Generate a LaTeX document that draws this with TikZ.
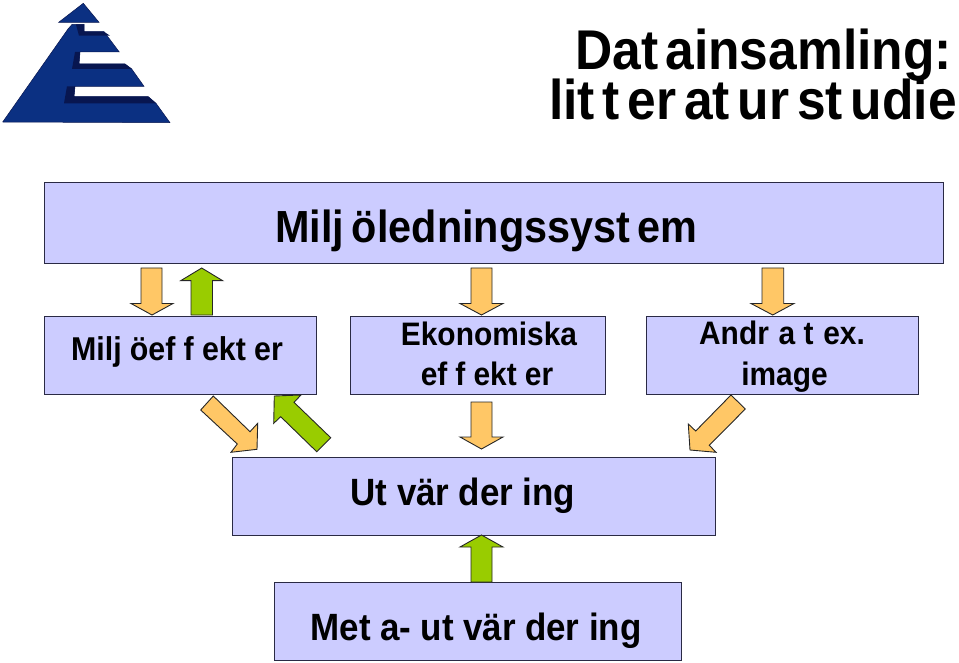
\documentclass[tikz,border=0pt]{standalone}
\usepackage{fontspec}
\setmainfont{Liberation Sans}[BoldFeatures={FakeStretch=0.92}]
\newcommand{\g}[1][.25]{\kern#1em\relax}
\definecolor{boxfill}{HTML}{CCCCFF}
\definecolor{edgecol}{HTML}{2A2A44}
\definecolor{orangefill}{HTML}{FFC766}
\definecolor{greenfill}{HTML}{99CC00}
\definecolor{logoblue}{HTML}{0B3082}
\definecolor{logodark}{HTML}{081650}
\tikzset{
 panel/.style={draw=edgecol,fill=boxfill,line width=1.1pt},
 orangearrow/.style={draw=black!85,fill=orangefill,line width=0.9pt,line join=miter},
 greenarrow/.style={draw=black!85,fill=greenfill,line width=0.9pt,line join=miter},
 label/.style={inner sep=0pt,anchor=base,align=center,text=black},
}
\begin{document}
\begin{tikzpicture}[x=1pt,y=-1pt]
\useasboundingbox (0,0) rectangle (959,663);
% logo
\fill[logoblue,draw=logodark,line width=.5pt] (83.3,3.3)--(99,22.3)--(58.7,22.3)--cycle;
\fill[logoblue,draw=logodark,line width=.5pt] (2.7,122)--(68,29)--(72,24.5)--(84,24.5)--(84,31.7)--(104,31.7)--(119.3,52)--(80,52)--(79,64)--(125,64)--(131.7,69)--(144,86.3)--(75,86.3)--(74,96.7)--(148.3,96.7)--(156,103.3)--(170,122.7)--cycle;
\fill[logodark] (76,24.5)--(84,24.5)--(84,31.7)--(104,31.7)--(110,35.7)--(79,35.7)--cycle;
\fill[logodark] (75,52)--(80,52)--(79,64)--(125,64)--(132,69)--(72,69)--cycle;
\fill[logodark] (67,86.3)--(75,86.3)--(74,96.7)--(148.3,96.7)--(156,103.3)--(64,103.3)--cycle;
% title
\node[label,anchor=base east,font=\bfseries\fontsize{56}{56}\selectfont] (t1) at (952,69.5) {Dat\g[.12]ainsamling:};
\node[label,anchor=base east,font=\bfseries\fontsize{56}{56}\selectfont] (t2) at (957,120) {lit\g[.14]t\g[.14]er\g[.14]at\g[.14]ur\g[.14]st\g[.14]udie};
% panels
\node[panel,minimum width=899pt,minimum height=81pt,inner sep=0pt,anchor=north west] (sys) at (44,182) {};
\node[panel,minimum width=272pt,minimum height=78pt,inner sep=0pt,anchor=north west] (eff) at (44,316) {};
\node[panel,minimum width=255pt,minimum height=78pt,inner sep=0pt,anchor=north west] (eko) at (350,316) {};
\node[panel,minimum width=272pt,minimum height=78pt,inner sep=0pt,anchor=north west] (and) at (646,316) {};
\node[panel,minimum width=483pt,minimum height=78pt,inner sep=0pt,anchor=north west] (utv) at (232,457) {};
\node[panel,minimum width=407pt,minimum height=78pt,inner sep=0pt,anchor=north west] (met) at (274,582) {};
% labels
\node[label,font=\bfseries\fontsize{45}{45}\selectfont] (l1) at (486.5,243) {Milj\g[.17]öledningssyst\g[.17]em};
\node[label,font=\bfseries\fontsize{33}{33}\selectfont] (l2) at (177,360.5) {Milj\g öef\g f\g ekt\g er};
\node[label,font=\bfseries\fontsize{32.5}{33}\selectfont] (l3) at (489,345) {Ekonomiska};
\node[label,font=\bfseries\fontsize{32.5}{33}\selectfont] (l4) at (487,385) {ef\g f\g ekt\g er};
\node[label,font=\bfseries\fontsize{32.5}{33}\selectfont] (l5) at (782,344) {Andr\g[.3]a t\g[.3]ex.};
\node[label,font=\bfseries\fontsize{32.5}{33}\selectfont] (l6) at (784.5,385) {image};
\node[label,font=\bfseries\fontsize{38}{38}\selectfont] (l7) at (463,505) {Ut\g vär\g der\g ing};
\node[label,font=\bfseries\fontsize{38}{38}\selectfont] (l8) at (476,640) {Met\g a-\g ut\g vär\g der\g ing};
% arrows
\draw[orangearrow] (141,268)--(162,268)--(162,303.5)--(173,303.5)--(152,315)--(131,303.5)--(141,303.5)--cycle;
\draw[greenarrow] (191,315)--(191,280.7)--(180.7,280.7)--(201.7,268)--(222.7,280.7)--(212.5,280.7)--(212.5,315)--cycle;
\draw[orangearrow] (471,268)--(492,268)--(492,303.5)--(503,303.5)--(481.5,315)--(460,303.5)--(471,303.5)--cycle;
\draw[orangearrow] (762,268)--(783.7,268)--(783.7,303.5)--(794,303.5)--(772.7,315)--(751,303.5)--(762,303.5)--cycle;
\draw[orangearrow] (213.3,396)--(200.7,410)--(237.3,444)--(231,452.3)--(257,449.3)--(257.7,423.3)--(250,431.7)--cycle;
\draw[greenarrow] (330.7,437.7)--(316.7,451.7)--(280.7,416.7)--(273.7,423.3)--(274.3,396)--(301,395)--(294,402.3)--cycle;
\draw[orangearrow] (731,395)--(745.3,409)--(709.3,445.3)--(716,452.3)--(690,450)--(688.3,424)--(695.7,431)--cycle;
\draw[orangearrow] (471,402)--(492,402)--(492,437)--(503,437)--(481.5,449)--(460,437)--(471,437)--cycle;
\draw[greenarrow] (471,582)--(471,547)--(460,547)--(481.5,535)--(503,547)--(492,547)--(492,582)--cycle;
\end{tikzpicture}
\end{document}
